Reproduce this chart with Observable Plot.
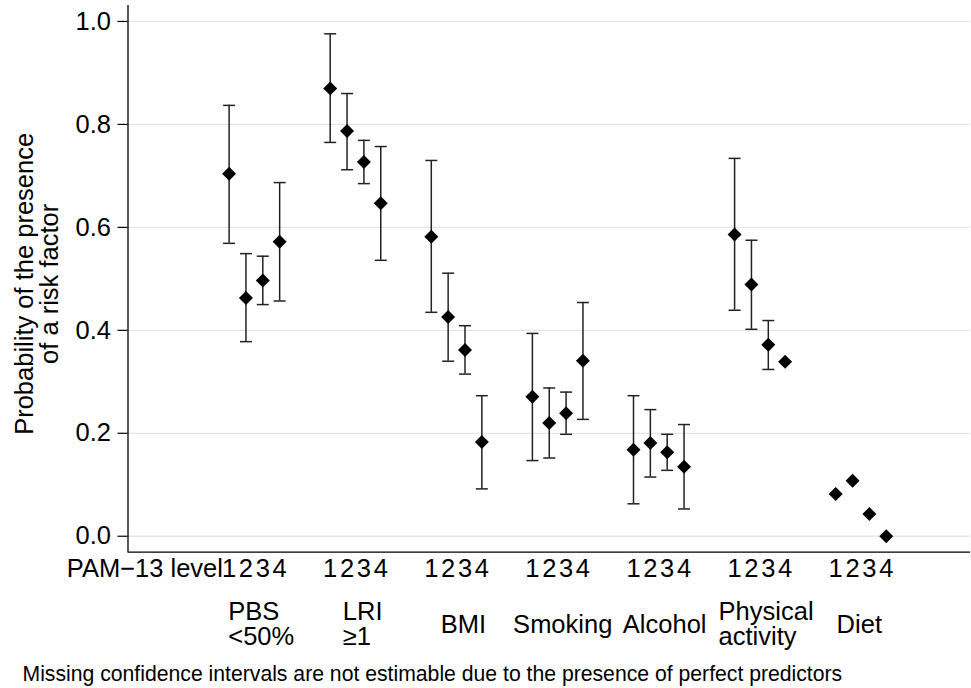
<!DOCTYPE html>
<html>
<head>
<meta charset="utf-8">
<script src="https://cdn.jsdelivr.net/npm/d3@7"></script>
<script src="https://cdn.jsdelivr.net/npm/@observablehq/plot@0.6"></script>
<style>
  html, body { margin: 0; padding: 0; background: #fff; }
  #chart svg { display: block; }
</style>
</head>
<body>
<div id="chart"></div>
<script>
// ---- Data ----
const groups = ["PBS\n<50%", "LRI\n≥1", "BMI", "Smoking", "Alcohol", "Physical\nactivity", "Diet"];
const levels = [1, 2, 3, 4];
const levelLabels = ["1", "2", "3", "4"];
const axisTitle = "PAM−13 level";
const axisTitlePos = -4;
const groupLabelPos = [0.95, 7.75, 14.9, 20.8, 26.85, 30.05, 38.4];

const estimate = [
  [0.704, 0.463, 0.497, 0.572],
  [0.870, 0.787, 0.727, 0.647],
  [0.582, 0.426, 0.362, 0.183],
  [0.271, 0.220, 0.239, 0.341],
  [0.168, 0.181, 0.163, 0.135],
  [0.586, 0.489, 0.372, 0.339],
  [0.082, 0.108, 0.043, 0.000]
];
const lower = [
  [0.569, 0.378, 0.450, 0.457],
  [0.765, 0.712, 0.685, 0.536],
  [0.435, 0.340, 0.315, 0.092],
  [0.147, 0.152, 0.198, 0.227],
  [0.063, 0.115, 0.128, 0.053],
  [0.439, 0.402, 0.324, null],
  [null, null, null, null]
];
const upper = [
  [0.837, 0.549, 0.544, 0.687],
  [0.976, 0.860, 0.769, 0.757],
  [0.730, 0.511, 0.409, 0.273],
  [0.394, 0.288, 0.280, 0.454],
  [0.273, 0.246, 0.198, 0.217],
  [0.734, 0.575, 0.419, null],
  [null, null, null, null]
];
const yTicks = [0, 0.2, 0.4, 0.6, 0.8, 1.0];
const yTitle = "Probability of the presence\nof a risk factor";
const footnote = "Missing confidence intervals are not estimable due to the presence of perfect predictors";

// ---- Build table ----
const slot = 6; // x units per group block
const rows = [];
groups.forEach((g, gi) => {
  levels.forEach((l, li) => {
    rows.push({
      group: g, level: l, x: gi * slot + l,
      est: estimate[gi][li], lo: lower[gi][li], hi: upper[gi][li]
    });
  });
});
const ci = rows.filter(d => d.lo != null && d.hi != null);
const tickVals = [axisTitlePos, ...rows.map(d => d.x)];
const tickText = new Map([[axisTitlePos, axisTitle], ...rows.map(d => [d.x, levelLabels[d.level - 1]])]);
const labelRows = groups.map((g, i) => ({label: g, x: groupLabelPos[i], multi: g.includes("\n")}));

const xDomain = [-5, 45];
const yDomain = [-0.031, 1.031];

const cap = {
  draw(ctx) { ctx.moveTo(-6, 0); ctx.lineTo(6, 0); }
};

const FS = 25.5;
const chart = Plot.plot({
  width: 971,
  height: 688,
  marginLeft: 127.5,
  marginRight: 1,
  marginTop: 5,
  marginBottom: 136.3,
  style: {fontFamily: "'Liberation Sans', Arial, Helvetica, sans-serif", fontSize: FS + "px", color: "#000", background: "#fff"},
  x: {type: "linear", domain: xDomain, axis: null, label: null},
  y: {domain: yDomain, axis: null, label: null},
  marks: [
    Plot.gridY(yTicks, {stroke: "#e6e6e6", strokeOpacity: 1, strokeWidth: 1.3}),
    Plot.axisY(yTicks, {label: null, tickSize: 10, tickPadding: 7, tickFormat: d3.format(".1f"), fontSize: FS, stroke: "#000", strokeWidth: 1.2}),
    Plot.axisX(tickVals, {label: null, tickSize: 0, tickPadding: 6.3, tickFormat: d => tickText.get(d), fontSize: FS}),
    Plot.ruleX([xDomain[0]], {stroke: "#000", strokeWidth: 1.3}),
    Plot.ruleY([yDomain[0]], {stroke: "#000", strokeWidth: 1.3}),
    // confidence intervals
    Plot.ruleX(ci, {x: "x", y1: "lo", y2: "hi", stroke: "#222", strokeWidth: 1.5}),
    Plot.dot(ci, {x: "x", y: "lo", symbol: cap, r: 6, fill: "none", stroke: "#222", strokeWidth: 1.5}),
    Plot.dot(ci, {x: "x", y: "hi", symbol: cap, r: 6, fill: "none", stroke: "#222", strokeWidth: 1.5}),
    // point estimates
    Plot.dot(rows, {x: "x", y: "est", symbol: "diamond2", r: 6.3, fill: "#000", stroke: "none"}),
    // group labels
    Plot.text(labelRows.filter(d => d.multi), {x: "x", text: "label", frameAnchor: "bottom", textAnchor: "start", lineAnchor: "middle", lineHeight: 0.98, dy: 72.3, fontSize: FS, fill: "#000"}),
    Plot.text(labelRows.filter(d => !d.multi), {x: "x", text: "label", frameAnchor: "bottom", textAnchor: "middle", lineAnchor: "middle", dy: 72.3, fontSize: FS, fill: "#000"}),
    // y-axis title
    Plot.text([yTitle], {frameAnchor: "left", rotate: -90, textAnchor: "middle", lineAnchor: "middle", lineHeight: 0.96, dx: -90.5, dy: 5, fontSize: FS, fill: "#000"}),
    // footnote
    Plot.text([footnote], {frameAnchor: "bottom-left", textAnchor: "start", lineAnchor: "bottom", dx: -105.5, dy: 128.3, fontSize: 21.2, fill: "#000"})
  ]
});
document.getElementById("chart").appendChild(chart);
</script>
</body>
</html>
